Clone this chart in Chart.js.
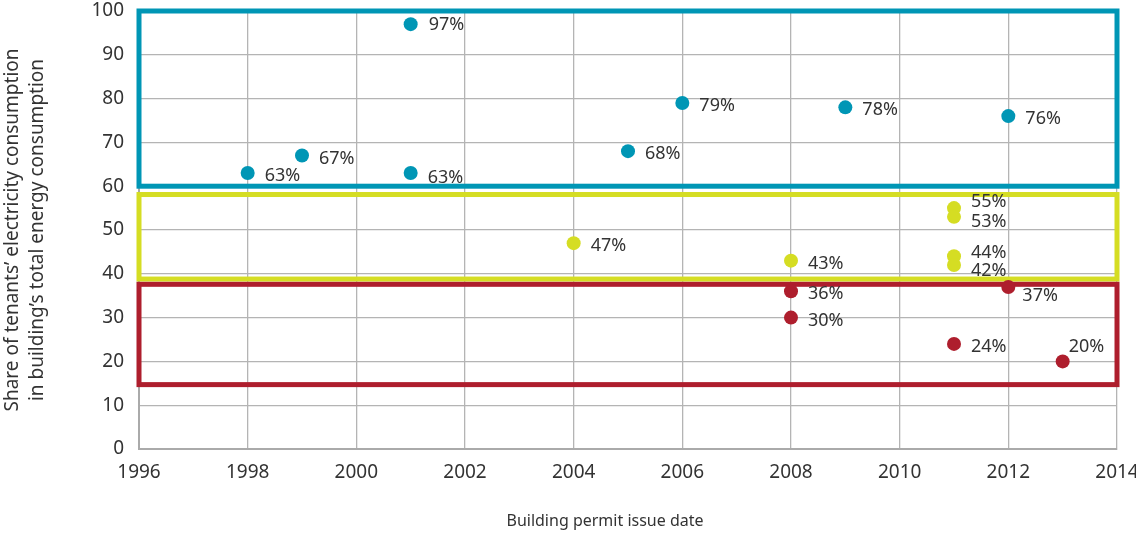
<!DOCTYPE html>
<html>
<head>
<meta charset="utf-8">
<script src="https://cdn.jsdelivr.net/npm/chart.js@4.4.1/dist/chart.umd.min.js"></script>
<style>
  html, body { margin: 0; padding: 0; background: #fff; }
  #wrap { width: 1136px; height: 533px; }
</style>
</head>
<body>
<div id="wrap"><canvas id="myChart" width="1136" height="533"></canvas></div>
<script>
// data
const blueYears = [1998, 1999, 2001, 2001, 2005, 2006, 2009, 2012];
const blueValues = [63, 67, 97, 63, 68, 79, 78, 76];

const yellowYears = [2004, 2008, 2011, 2011, 2011, 2011];
const yellowValues = [47, 43, 55, 53, 44, 42];

const redYears = [2008, 2008, 2011, 2012, 2013];
const redValues = [36, 30, 24, 37, 20];

// group bands [from, to] on the y axis
const blueBand = [60, 100];
const yellowBand = [38.8, 58.1];
const redBand = [14.7, 37.6];
const bandYears = [1996, 2014];

const xTicks = [1996, 1998, 2000, 2002, 2004, 2006, 2008, 2010, 2012, 2014];
const xTitle = 'Building permit issue date';

const BLUE = '#0096b5';
const YELLOW = '#d5dd23';
const RED = '#ae1e2d';
const FONT = '"Noto Sans", sans-serif';

function toPoints(xs, ys) {
    return xs.map((x, i) => ({ x: x, y: ys[i] }));
}

// label nudges (dx, dy) for crowded points, keyed "dataset-index"
const labelNudge = {
    '0-2': [18, 1],
    '0-3': [17, 5],
    '1-2': [17, -6],
    '1-3': [17, 5],
    '1-4': [17, -3],
    '1-5': [17, 6],
    '2-3': [14, 9],
    '2-4': [6, -15]
};

const bandsPlugin = {
    id: 'bands',
    beforeDatasetsDraw(chart) {
        const { ctx, scales } = chart;
        const x = scales.x, y = scales.y;
        const bands = [[blueBand, BLUE], [yellowBand, YELLOW], [redBand, RED]];
        ctx.save();
        ctx.lineWidth = 5;
        bands.forEach(([band, color]) => {
            const left = x.getPixelForValue(bandYears[0]);
            const right = x.getPixelForValue(bandYears[1]);
            const top = y.getPixelForValue(band[1]);
            const bottom = y.getPixelForValue(band[0]);
            ctx.strokeStyle = color;
            ctx.strokeRect(left, top, right - left, bottom - top);
        });
        ctx.restore();
    }
};

const labelsPlugin = {
    id: 'pointLabels',
    afterDatasetsDraw(chart) {
        const ctx = chart.ctx;
        ctx.save();
        ctx.font = '18px ' + FONT;
        ctx.fillStyle = '#333';
        ctx.textAlign = 'left';
        ctx.textBaseline = 'middle';
        chart.data.datasets.forEach((ds, di) => {
            const meta = chart.getDatasetMeta(di);
            meta.data.forEach((pt, i) => {
                const nudge = labelNudge[di + '-' + i] || [17, 3];
                ctx.fillText(ds.data[i].y + '%', pt.x + nudge[0], pt.y + nudge[1]);
            });
        });
        ctx.restore();
    }
};

// x title sits a bit left of the plot centre in the original
const xTitlePlugin = {
    id: 'xTitle',
    afterDraw(chart) {
        const { ctx, chartArea } = chart;
        ctx.save();
        ctx.font = '16px ' + FONT;
        ctx.fillStyle = '#333';
        ctx.textAlign = 'center';
        ctx.textBaseline = 'middle';
        ctx.fillText(xTitle, (chartArea.left + chartArea.right) / 2 - 23, 521);
        ctx.restore();
    }
};

const canvasGrafico = document.getElementById('myChart');

new Chart(canvasGrafico, {
    type: 'scatter',
    data: {
        datasets: [
            { label: 'high', data: toPoints(blueYears, blueValues), backgroundColor: BLUE, borderWidth: 0, pointRadius: 7 },
            { label: 'mid', data: toPoints(yellowYears, yellowValues), backgroundColor: YELLOW, borderWidth: 0, pointRadius: 7 },
            { label: 'low', data: toPoints(redYears, redValues), backgroundColor: RED, borderWidth: 0, pointRadius: 7 }
        ]
    },
    plugins: [bandsPlugin, labelsPlugin, xTitlePlugin],
    options: {
        responsive: false,
        animation: false,
        layout: { padding: { top: 11, right: 19, left: 0, bottom: 0 } },
        plugins: {
            legend: { display: false },
            tooltip: { enabled: false }
        },
        scales: {
            x: {
                type: 'linear',
                min: 1996,
                max: 2014,
                afterBuildTicks: (scale) => { scale.ticks = xTicks.map(v => ({ value: v })); },
                afterFit: (scale) => {
                    scale.height = 84;
                    scale.paddingLeft = 0;
                    scale.paddingRight = 0;
                },
                grid: { color: '#b4b4b4', lineWidth: 1.3, drawTicks: false },
                border: { color: '#aaa', width: 2 },
                ticks: {
                    color: '#333',
                    font: { family: FONT, size: 19 },
                    padding: 12,
                    maxRotation: 0,
                    callback: (v) => String(v)
                },
                title: { display: false }
            },
            y: {
                min: 0,
                max: 100,
                ticks: { stepSize: 10, color: '#333', font: { family: FONT, size: 19 }, padding: 15 },
                afterFit: (scale) => {
                    scale.width = 139;
                    scale.paddingTop = 0;
                    scale.paddingBottom = 0;
                },
                grid: { color: '#b4b4b4', lineWidth: 1.3, drawTicks: false },
                border: { color: '#aaa', width: 2 },
                title: {
                    display: true,
                    text: ['Share of tenants\u2019 electricity consumption', 'in building\u2019s total energy consumption'],
                    color: '#333',
                    font: { family: FONT, size: 19, lineHeight: 1.32 },
                    padding: { top: 0, bottom: 0 }
                }
            }
        }
    }
});
</script>
</body>
</html>
